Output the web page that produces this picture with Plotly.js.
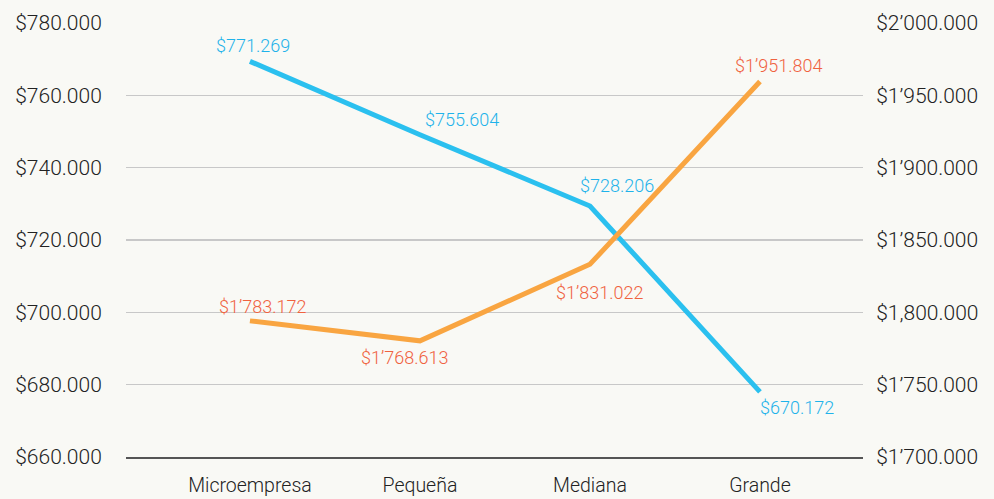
<!DOCTYPE html>
<html>
<head>
<meta charset="utf-8">
<script src="https://cdn.plot.ly/plotly-3.0.1.min.js"></script>
<style>html,body{margin:0;padding:0;background:#f9f9f5;}#chart{width:994px;height:499px;}</style>
</head>
<body>
<div id="chart"></div>
<script>
const categories = ['Microempresa', 'Pequeña', 'Mediana', 'Grande'];
const blueValues = [769.4, 749.1, 729.4, 678.0];
const blueLabels = ['$771.269', '$755.604', '$728.206', '$670.172'];
const orangeValues = [1794.1, 1780.3, 1833.2, 1959.6];
const orangeLabels = ['$1’783.172', '$1’768.613', '$1’831.022', '$1’951.804'];
const leftTickVals = [660, 680, 700, 720, 740, 760, 780];
const leftTickText = ['$660.000', '$680.000', '$700.000', '$720.000', '$740.000', '$760.000', '$780.000'];
const rightTickVals = [1700, 1750, 1800, 1850, 1900, 1950, 2000];
const rightTickText = ['$1’700.000', '$1’750.000', '$1,800.000', '$1’850.000', '$1’900.000', '$1’950.000', '$2’000.000'];

// label offsets in pixels (style, not data)
const blueShiftX = [3, 42, 27, 37];
const blueShiftY = [16, 15, 21, -16];
const orangeShiftX = [13, -15, 10, 19];
const orangeShiftY = [14, -17, -28, 16];

const font = 'Roboto, "Open Sans", sans-serif';
const blueLine = '#2bc0ef', blueText = '#1fb3ea';
const orangeLine = '#f9a541', orangeText = '#f0623f';

const traces = [
  {
    x: categories, y: blueValues, yaxis: 'y', type: 'scatter', mode: 'lines',
    line: {color: blueLine, width: 5}, hoverinfo: 'skip'
  },
  {
    x: categories, y: orangeValues, yaxis: 'y2', type: 'scatter', mode: 'lines',
    line: {color: orangeLine, width: 5}, hoverinfo: 'skip'
  }
];

const annotations = [];
categories.forEach((c, i) => {
  annotations.push({
    x: c, y: blueValues[i], xref: 'x', yref: 'y', text: blueLabels[i],
    showarrow: false, xanchor: 'center', yanchor: 'middle',
    xshift: blueShiftX[i], yshift: blueShiftY[i],
    font: {family: font, size: 18, color: blueText, weight: 300}
  });
  annotations.push({
    x: c, y: orangeValues[i], xref: 'x', yref: 'y2', text: orangeLabels[i],
    showarrow: false, xanchor: 'center', yanchor: 'middle',
    xshift: orangeShiftX[i], yshift: orangeShiftY[i],
    font: {family: font, size: 18, color: orangeText, weight: 300}
  });
});

const layout = {
  width: 994, height: 499,
  paper_bgcolor: '#f9f9f5', plot_bgcolor: '#f9f9f5',
  margin: {l: 126, r: 131, t: 23, b: 42},
  showlegend: false,
  font: {family: font, color: '#222'},
  annotations: annotations,
  xaxis: {
    type: 'category', range: [-0.729, 3.606],
    showgrid: false, zeroline: false,
    showline: true, linecolor: '#555', linewidth: 1.5,
    ticks: 'outside', ticklen: 10, tickcolor: 'rgba(0,0,0,0)',
    tickfont: {family: font, size: 19.5, color: '#222', weight: 300}
  },
  yaxis: {
    range: [660, 780], tickvals: leftTickVals, ticktext: leftTickText,
    showgrid: true, gridcolor: '#c8c8c8', gridwidth: 1.3,
    zeroline: false, showline: false,
    ticks: 'outside', ticklen: 19, tickcolor: 'rgba(0,0,0,0)',
    tickfont: {family: font, size: 21, color: '#222', weight: 300}
  },
  yaxis2: {
    range: [1700, 2000], tickvals: rightTickVals, ticktext: rightTickText,
    overlaying: 'y', side: 'right',
    showgrid: false, zeroline: false, showline: false,
    ticks: 'outside', ticklen: 8, tickcolor: 'rgba(0,0,0,0)',
    tickfont: {family: font, size: 21, color: '#222', weight: 300}
  }
};

Plotly.newPlot('chart', traces, layout, {displayModeBar: false, staticPlot: true});
</script>
</body>
</html>
